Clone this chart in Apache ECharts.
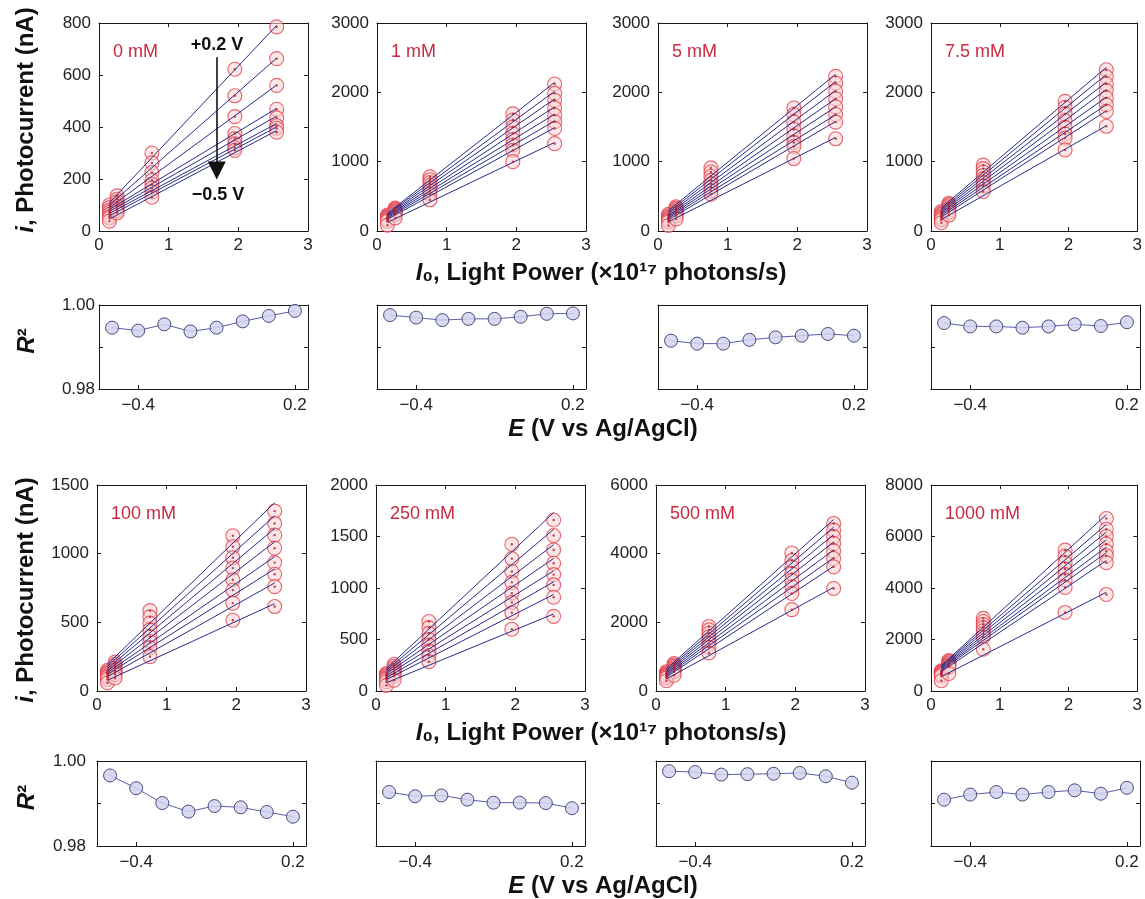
<!DOCTYPE html>
<html>
<head>
<meta charset="utf-8">
<title>Photocurrent vs light power</title>
<script src="https://cdn.jsdelivr.net/npm/echarts@6.0.0/dist/echarts.min.js"></script>
<style>
  html, body { margin: 0; padding: 0; background: #ffffff; }
  #chart { width: 1145px; height: 899px; }
</style>
</head>
<body>
<div id="chart"></div>
<script>
// ---------- data ----------
const lightPower = [0.15, 0.26, 0.76, 1.95, 2.55];                 // x10^17 photons/s
const potentials = [-0.5, -0.4, -0.3, -0.2, -0.1, 0.0, 0.1, 0.2];  // V vs Ag/AgCl
const concLabels = ['0 mM', '1 mM', '5 mM', '7.5 mM', '100 mM', '250 mM', '500 mM', '1000 mM'];
const currentMax = [800, 3000, 3000, 3000, 1500, 2000, 6000, 8000];
const currentStep = [200, 1000, 1000, 1000, 500, 500, 2000, 2000];
const lightTicks = [0, 1, 2, 3];
const potentialTicks = [-0.4, 0.2];
const r2LabelTicks = [0.98, 1.00];

// photocurrent (nA): one row per light power, columns run from +0.2 V down to -0.5 V
const current_0mM = [
  [100, 90, 80, 72, 64, 56, 50, 38],
  [135, 122, 112, 102, 94, 86, 78, 70],
  [300, 262, 225, 195, 180, 165, 150, 130],
  [622, 520, 440, 375, 355, 335, 320, 310],
  [785, 663, 560, 468, 435, 405, 395, 380]
];
const current_1mM = [
  [230, 215, 200, 185, 170, 155, 140, 85],
  [330, 315, 300, 285, 270, 255, 240, 190],
  [780, 740, 700, 660, 620, 580, 530, 450],
  [1690, 1600, 1500, 1405, 1320, 1240, 1165, 1000],
  [2120, 1985, 1885, 1775, 1670, 1575, 1480, 1260]
];
const current_5mM = [
  [240, 220, 200, 180, 165, 150, 130, 80],
  [350, 330, 310, 290, 270, 250, 220, 175],
  [910, 850, 790, 730, 680, 630, 580, 530],
  [1775, 1680, 1570, 1465, 1370, 1275, 1220, 1045],
  [2230, 2135, 2015, 1905, 1790, 1680, 1570, 1330]
];
const current_7p5mM = [
  [280, 260, 240, 220, 200, 180, 160, 120],
  [400, 380, 360, 340, 320, 300, 270, 230],
  [950, 900, 850, 800, 750, 700, 650, 570],
  [1870, 1785, 1690, 1590, 1495, 1400, 1340, 1170],
  [2325, 2225, 2120, 2025, 1920, 1820, 1725, 1510]
];
const current_100mM = [
  [150, 140, 130, 120, 110, 100, 85, 60],
  [210, 195, 180, 165, 150, 135, 120, 95],
  [585, 540, 495, 445, 395, 360, 315, 250],
  [1130, 1050, 970, 895, 810, 735, 640, 515],
  [1310, 1220, 1135, 1040, 935, 850, 760, 615]
];
const current_250mM = [
  [170, 160, 150, 140, 125, 110, 90, 55],
  [260, 240, 220, 200, 185, 165, 145, 105],
  [675, 615, 560, 500, 445, 390, 345, 285],
  [1425, 1285, 1160, 1055, 950, 860, 760, 600],
  [1660, 1510, 1370, 1240, 1130, 1030, 910, 725]
];
const current_500mM = [
  [560, 530, 500, 470, 440, 410, 380, 300],
  [800, 760, 720, 680, 640, 600, 560, 460],
  [1880, 1780, 1680, 1580, 1480, 1380, 1270, 1110],
  [4020, 3800, 3610, 3420, 3220, 3030, 2840, 2370],
  [4880, 4685, 4490, 4295, 4080, 3860, 3615, 2985]
];
const current_1000mM = [
  [780, 750, 720, 690, 660, 630, 580, 400],
  [1180, 1140, 1100, 1060, 1020, 980, 930, 680],
  [2820, 2700, 2580, 2460, 2340, 2220, 2100, 1620],
  [5470, 5240, 4980, 4735, 4525, 4305, 4020, 3050],
  [6700, 6280, 6000, 5710, 5430, 5250, 4980, 3750]
];

// R^2 of the linear fits, ordered as potentials (-0.5 V ... +0.2 V)
const r2_0mM    = [0.9946, 0.9939, 0.9954, 0.9937, 0.9946, 0.9961, 0.9974, 0.9986];
const r2_1mM    = [0.9976, 0.9970, 0.9964, 0.9967, 0.9967, 0.9972, 0.9979, 0.9980];
const r2_5mM    = [0.9915, 0.9908, 0.9908, 0.9917, 0.9923, 0.9927, 0.9931, 0.9927];
const r2_7p5mM  = [0.9957, 0.9949, 0.9949, 0.9946, 0.9949, 0.9954, 0.9950, 0.9959];
const r2_100mM  = [0.9966, 0.9936, 0.9901, 0.9881, 0.9894, 0.9891, 0.9880, 0.9869];
const r2_250mM  = [0.9927, 0.9917, 0.9919, 0.9909, 0.9902, 0.9902, 0.9901, 0.9889];
const r2_500mM  = [0.9976, 0.9974, 0.9968, 0.9969, 0.9970, 0.9972, 0.9964, 0.9949];
const r2_1000mM = [0.9909, 0.9921, 0.9927, 0.9921, 0.9927, 0.9931, 0.9923, 0.9937];

const currents = [current_0mM, current_1mM, current_5mM, current_7p5mM,
                  current_100mM, current_250mM, current_500mM, current_1000mM];
const r2Values = [r2_0mM, r2_1mM, r2_5mM, r2_7p5mM, r2_100mM, r2_250mM, r2_500mM, r2_1000mM];

// ---------- layout ----------
const FONT = '"Liberation Sans", Arial, Helvetica, sans-serif';
const colLeft = [[99, 377, 658, 931], [97, 376, 656, 931]];
const panelW = 209;
const mainTop = [23, 485], mainH = [208, 206];
const r2Top = [305, 761], r2H = [84, 85];
const r2LabelMargin = [4, 11];
const yTitleCenter = [120, 590];

const INK = '#1a1a1a';
const FIT_COLOR = '#2a2a86';
const CIRCLE_EDGE = '#e2404e';
const CIRCLE_FILL = 'rgba(248,214,214,0.72)';
const CONC_COLOR = '#c9283e';

function linearFit(xs, ys) {
  const n = xs.length;
  let sx = 0, sy = 0, sxx = 0, sxy = 0;
  for (let i = 0; i < n; i++) { sx += xs[i]; sy += ys[i]; sxx += xs[i] * xs[i]; sxy += xs[i] * ys[i]; }
  const slope = (n * sxy - sx * sy) / (n * sxx - sx * sx);
  return { slope, intercept: (sy - slope * sx) / n };
}

const grids = [], xAxes = [], yAxes = [], series = [];

function boxAxes(g, xCfg, yCfg) {
  const line = { show: true, onZero: false, lineStyle: { color: INK, width: 1 } };
  const tick = { show: true, inside: true, length: 4, lineStyle: { color: INK, width: 1 } };
  xAxes.push(Object.assign({ gridIndex: g, type: 'value', position: 'bottom', axisLine: line,
    axisTick: tick, splitLine: { show: false } }, xCfg.bottom));
  xAxes.push(Object.assign({ gridIndex: g, type: 'value', position: 'top', axisLine: line,
    axisTick: tick, splitLine: { show: false }, axisLabel: { show: false } }, xCfg.top));
  yAxes.push(Object.assign({ gridIndex: g, type: 'value', position: 'left', axisLine: line,
    axisTick: tick, splitLine: { show: false } }, yCfg.left));
  yAxes.push(Object.assign({ gridIndex: g, type: 'value', position: 'right', axisLine: line,
    axisTick: tick, splitLine: { show: false }, axisLabel: { show: false } }, yCfg.right));
}

const tickFont = { fontFamily: FONT, fontSize: 17, color: '#222' };

// photocurrent panels (grids 0..7)
for (let p = 0; p < 8; p++) {
  const row = p < 4 ? 0 : 1, col = p % 4;
  grids.push({ left: colLeft[row][col], top: mainTop[row], width: panelW, height: mainH[row] });
  const xRange = { min: lightTicks[0], max: lightTicks[lightTicks.length - 1], interval: 1 };
  const yRange = { min: 0, max: currentMax[p], interval: currentStep[p] };
  boxAxes(p,
    { bottom: Object.assign({ axisLabel: Object.assign({ margin: 6 }, tickFont) }, xRange),
      top: Object.assign({}, xRange) },
    { left: Object.assign({ axisLabel: Object.assign({ margin: 8, formatter: v => String(v) }, tickFont) }, yRange),
      right: Object.assign({}, yRange) });

  const data = currents[p];
  const pts = [];
  for (let li = 0; li < lightPower.length; li++) {
    for (let k = 0; k < potentials.length; k++) pts.push([lightPower[li], data[li][k]]);
  }
  const circles = {
    type: 'scatter', xAxisIndex: 2 * p, yAxisIndex: 2 * p, data: pts, symbol: 'circle', symbolSize: 14,
    itemStyle: { color: CIRCLE_FILL, borderColor: CIRCLE_EDGE, borderWidth: 1.1 }, z: 2, silent: true
  };
  if (p === 0) {
    // potential sweep arrow (+0.2 V at top, -0.5 V at bottom)
    circles.markLine = {
      silent: true, animation: false, symbol: ['none', 'triangle'], symbolSize: 18,
      lineStyle: { color: '#111', width: 1.6, type: 'solid' }, label: { show: false },
      emphasis: { disabled: true },
      data: [[{ coord: [1.69, 668] }, { coord: [1.69, 233] }]]
    };
  }
  series.push(circles);

  // straight-line fits for each potential, drawn over the measured light-power range
  const xStart = lightPower[0];
  const xEnd = lightPower[lightPower.length - 1];
  for (let k = 0; k < potentials.length; k++) {
    const ys = data.map(r => r[k]);
    const f = linearFit(lightPower, ys);
    series.push({
      type: 'line', xAxisIndex: 2 * p, yAxisIndex: 2 * p, symbol: 'none', silent: true, z: 3,
      data: [[xStart, f.intercept + f.slope * xStart], [xEnd, f.intercept + f.slope * xEnd]],
      lineStyle: { color: FIT_COLOR, width: 1 }
    });
  }
  series.push({
    type: 'scatter', xAxisIndex: 2 * p, yAxisIndex: 2 * p, data: pts, symbol: 'circle', symbolSize: 2.4,
    itemStyle: { color: '#b3202c' }, z: 4, silent: true
  });
}

// R^2 panels (grids 8..15)
for (let p = 0; p < 8; p++) {
  const g = 8 + p;
  const row = p < 4 ? 0 : 1, col = p % 4;
  grids.push({ left: colLeft[row][col], top: r2Top[row], width: panelW, height: r2H[row] });
  const xRange = { min: -0.55, max: 0.25 };
  const yRange = { min: 0.98, max: 1.0, interval: 0.01 };
  boxAxes(g,
    { bottom: Object.assign({
        axisTick: { show: true, inside: true, length: 4, customValues: potentialTicks, lineStyle: { color: INK } },
        axisLabel: Object.assign({ margin: 8, customValues: potentialTicks,
          formatter: v => v.toFixed(1).replace('-', '\u2212') }, tickFont) }, xRange),
      top: Object.assign({ axisTick: { show: false } }, xRange) },
    { left: Object.assign({
        axisLabel: Object.assign({ show: col === 0, margin: r2LabelMargin[row], customValues: r2LabelTicks,
          formatter: v => v.toFixed(2) }, tickFont) }, yRange),
      right: Object.assign({}, yRange) });
  series.push({
    type: 'line', xAxisIndex: 2 * g, yAxisIndex: 2 * g, silent: true, z: 3,
    data: potentials.map((e, i) => [e, r2Values[p][i]]),
    symbol: 'circle', symbolSize: 13, showAllSymbol: true,
    lineStyle: { color: '#5b5ba8', width: 1 },
    itemStyle: { color: 'rgba(210,210,238,0.85)', borderColor: '#4a4a7c', borderWidth: 1 }
  });
}

// ---------- titles and annotations ----------
const graphics = [];
const boldTitle = { fontFamily: FONT, fontSize: 24, fontWeight: 'bold', fill: '#111' };
const italicRich = { it: { fontFamily: FONT, fontSize: 24, fontWeight: 'bold', fontStyle: 'italic' } };

for (let row = 0; row < 2; row++) {
  graphics.push({
    type: 'text', x: 26, y: yTitleCenter[row], rotation: Math.PI / 2, silent: true,
    style: Object.assign({ text: '{it|i}, Photocurrent (nA)', rich: italicRich, align: 'center', verticalAlign: 'middle' }, boldTitle)
  });
  graphics.push({
    type: 'text', x: 27, y: r2Top[row] + r2H[row] / 2 - 6, rotation: Math.PI / 2, silent: true,
    style: Object.assign({ text: '{it|R}\u00B2', rich: italicRich, align: 'center', verticalAlign: 'middle' }, boldTitle)
  });
  graphics.push({
    type: 'text', x: 601, y: mainTop[row] + mainH[row] + 42, silent: true,
    style: Object.assign({ text: '{it|I}\u2080, Light Power (\u00D710\u00B9\u2077 photons/s)', rich: italicRich,
      align: 'center', verticalAlign: 'middle' }, boldTitle)
  });
  graphics.push({
    type: 'text', x: 603, y: r2Top[row] + r2H[row] + 40, silent: true,
    style: Object.assign({ text: '{it|E} (V vs Ag/AgCl)', rich: italicRich, align: 'center', verticalAlign: 'middle' }, boldTitle)
  });
}

for (let p = 0; p < 8; p++) {
  const row = p < 4 ? 0 : 1, col = p % 4;
  graphics.push({
    type: 'text', x: colLeft[row][col] + 14, y: mainTop[row] + 29, silent: true,
    style: { text: concLabels[p], fontFamily: FONT, fontSize: 18, fill: CONC_COLOR, align: 'left', verticalAlign: 'middle' }
  });
}

// potential labels beside the sweep arrow in the 0 mM panel
graphics.push({
  type: 'text', x: colLeft[0][0] + 118, y: mainTop[0] + 22, silent: true,
  style: { text: '+0.2 V', fontFamily: FONT, fontSize: 18, fontWeight: 'bold', fill: '#111', align: 'center', verticalAlign: 'middle' }
});
graphics.push({
  type: 'text', x: colLeft[0][0] + 119, y: mainTop[0] + 172, silent: true,
  style: { text: '\u22120.5 V', fontFamily: FONT, fontSize: 18, fontWeight: 'bold', fill: '#111', align: 'center', verticalAlign: 'middle' }
});

const chart = echarts.init(document.getElementById('chart'), null, { renderer: 'canvas' });
chart.setOption({
  backgroundColor: '#ffffff',
  animation: false,
  grid: grids,
  xAxis: xAxes,
  yAxis: yAxes,
  series: series,
  graphic: graphics
});
</script>
</body>
</html>
